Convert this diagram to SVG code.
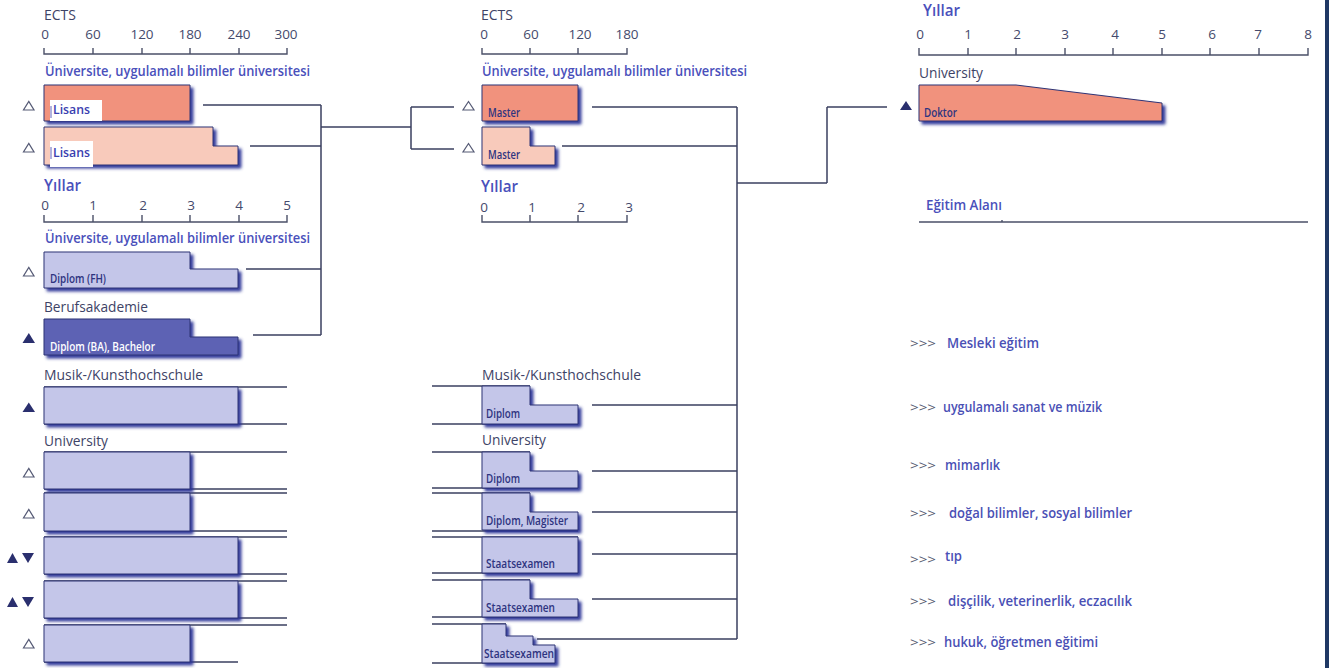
<svg xmlns="http://www.w3.org/2000/svg" width="1329" height="668" viewBox="0 0 1329 668">
<defs>
<filter id="sh" x="-10%" y="-20%" width="130%" height="160%">
<feDropShadow dx="3" dy="3" stdDeviation="1.4" flood-color="#2a3196" flood-opacity="0.95"/>
</filter>
<style>
text{font-family:"Open Sans","Liberation Sans",sans-serif}
.ax{stroke:#4b5068;stroke-width:1.4;fill:none}
.cn{stroke:#3b4060;stroke-width:1.5;fill:none}
.ln{stroke:#3b4060;stroke-width:1.3}
.bar{stroke:#2f3475;stroke-width:1;filter:url(#sh)}
.sal{fill:#f1927d}.lsal{fill:#f8cabb}.lav{fill:#c4c6e9}.dk{fill:#5d62b4}
.tk{font-size:13.5px;fill:#454a6c;text-anchor:middle}
.gr{font-size:14px;fill:#3e4366}
.hd{font-size:14px;fill:#4a50bb;font-weight:600}
.yl{font-size:16.5px;fill:#4a50bb;font-weight:600}
.bl{font-size:13px;fill:#2e3480;font-weight:600}
.wt{font-size:13px;fill:#ffffff;font-weight:600}
.ls{font-size:13px;fill:#3a40b0;font-weight:600}
.lg{font-size:15px;fill:#4a50b5;font-weight:600}
.ar{fill:#555a70;font-weight:400}
.to{fill:none;stroke:#555a75;stroke-width:1.2}
.tf{fill:#2a2f6e}
</style>
</defs>
<rect width="1329" height="668" fill="#ffffff"/>
<rect x="1325" y="0" width="4" height="668" fill="#1f3864"/>

<g id="axes">
<text x="44" y="20" class="gr" textLength="32" lengthAdjust="spacingAndGlyphs">ECTS</text>
<text x="45" y="39" class="tk">0</text><text x="93" y="39" class="tk">60</text><text x="142" y="39" class="tk">120</text><text x="190" y="39" class="tk">180</text><text x="239" y="39" class="tk">240</text><text x="286" y="39" class="tk">300</text>
<path class="ax" d="M44,48V54H287V48M93,48V54M142,48V54M190,48V54M239,48V54"/>
<text x="45" y="76" class="hd" textLength="265" lengthAdjust="spacingAndGlyphs">Üniversite, uygulamalı bilimler üniversitesi</text>
<text x="44" y="191" class="yl" textLength="37" lengthAdjust="spacingAndGlyphs">Yıllar</text>
<text x="45" y="210" class="tk">0</text><text x="93" y="210" class="tk">1</text><text x="143" y="210" class="tk">2</text><text x="191" y="210" class="tk">3</text><text x="239" y="210" class="tk">4</text><text x="287" y="210" class="tk">5</text>
<path class="ax" d="M44,215V222H287V215M93,215V222M142,215V222M190,215V222M239,215V222"/>
<text x="45" y="243" class="hd" textLength="265" lengthAdjust="spacingAndGlyphs">Üniversite, uygulamalı bilimler üniversitesi</text>

<text x="481" y="20" class="gr" textLength="32" lengthAdjust="spacingAndGlyphs">ECTS</text>
<text x="484" y="39" class="tk">0</text><text x="531" y="39" class="tk">60</text><text x="580" y="39" class="tk">120</text><text x="627" y="39" class="tk">180</text>
<path class="ax" d="M482,48V54H627V48M530,48V54M578,48V54"/>
<text x="482" y="76" class="hd" textLength="265" lengthAdjust="spacingAndGlyphs">Üniversite, uygulamalı bilimler üniversitesi</text>
<text x="481" y="192" class="yl" textLength="37" lengthAdjust="spacingAndGlyphs">Yıllar</text>
<text x="484" y="212" class="tk">0</text><text x="532" y="212" class="tk">1</text><text x="581" y="212" class="tk">2</text><text x="629" y="212" class="tk">3</text>
<path class="ax" d="M482,215V222H627V215M530,215V222M578,215V222"/>

<text x="923" y="16" class="yl" textLength="37" lengthAdjust="spacingAndGlyphs">Yıllar</text>
<text x="920" y="39" class="tk">0</text><text x="968" y="39" class="tk">1</text><text x="1017" y="39" class="tk">2</text><text x="1065" y="39" class="tk">3</text><text x="1115" y="39" class="tk">4</text><text x="1162" y="39" class="tk">5</text><text x="1212" y="39" class="tk">6</text><text x="1258" y="39" class="tk">7</text><text x="1308" y="39" class="tk">8</text>
<path class="ax" d="M919,48V55H1308V48M968,48V55M1016,48V55M1065,48V55M1113,48V55M1162,48V55M1210,48V55M1259,48V55"/>
<text x="926" y="210" class="hd" textLength="76" lengthAdjust="spacingAndGlyphs">Eğitim Alanı</text>
<path class="ax" d="M919,222H1308M1002,222V220"/>
</g>

<g id="connectors">
<path class="cn" d="M203,105H321M250,146H321M321,105V335M246,269H321M253,335H321M321,127H411M411,107V149M411,107H454M411,149H454"/>
<path class="cn" d="M592,107H737M562,146H737M737,107V639M737,183H827M827,107V183M827,107H887M592,405H737M592,471H737M592,512H737M592,554H737M592,599H737M537,639H737"/>
</g>

<g id="n-lisans1">
<path class="bar sal" d="M44,85H190V121H44Z"/>
<rect x="50" y="100" width="52" height="21" fill="#ffffff"/>
<line x1="51" y1="106" x2="51" y2="118" stroke="#3a40b0" stroke-width="0.8"/>
<text x="53" y="114" class="ls" textLength="37" lengthAdjust="spacingAndGlyphs">Lisans</text>
<polygon class="to" points="23.5,110 34,110 28.8,101.5"/>
</g>
<g id="n-lisans2">
<path class="bar lsal" d="M44,127H213V146H238V165H44Z"/>
<rect x="50" y="141" width="43" height="26" fill="#ffffff"/>
<line x1="51" y1="147" x2="51" y2="159" stroke="#3a40b0" stroke-width="0.8"/>
<text x="53" y="157" class="ls" textLength="37" lengthAdjust="spacingAndGlyphs">Lisans</text>
<polygon class="to" points="23.5,152 34,152 28.8,143.5"/>
</g>
<g id="n-diplomfh">
<path class="bar lav" d="M44,252H190V269H238V288H44Z"/>
<text x="50" y="283" class="bl" textLength="56" lengthAdjust="spacingAndGlyphs">Diplom (FH)</text>
<polygon class="to" points="23.5,276 34,276 28.8,267.5"/>
</g>
<g id="n-ba">
<text x="44" y="312" class="gr" textLength="104" lengthAdjust="spacingAndGlyphs">Berufsakademie</text>
<path class="bar dk" d="M44,319H190V337H238V355H44Z"/>
<text x="50" y="351" class="wt" textLength="105" lengthAdjust="spacingAndGlyphs">Diplom (BA), Bachelor</text>
<polygon class="tf" points="22.5,343 35,343 28.8,333"/>
</g>
<g id="n-musik-left">
<text x="44" y="380" class="gr" textLength="159" lengthAdjust="spacingAndGlyphs">Musik-/Kunsthochschule</text>
<path class="ln" d="M44,387H287M44,424H287"/>
<path class="bar lav" d="M44,387H238V424H44Z"/>
<polygon class="tf" points="22.5,412 35,412 28.8,402.5"/>
</g>
<g id="n-uni-left">
<text x="44" y="446" class="gr" textLength="64" lengthAdjust="spacingAndGlyphs">University</text>
<path class="ln" d="M44,452H287M44,489H287M44,493H287M44,531H287M44,537H287M44,574H287M44,581H287M44,618H287M44,625H287M44,662H238"/>
<path class="bar lav" d="M44,452H190V489H44Z"/>
<path class="bar lav" d="M44,493H190V531H44Z"/>
<path class="bar lav" d="M44,537H238V574H44Z"/>
<path class="bar lav" d="M44,581H238V618H44Z"/>
<path class="bar lav" d="M44,625H190V662H44Z"/>
<polygon class="to" points="23.5,477 34,477 28.8,468.5"/>
<polygon class="to" points="23.5,518 34,518 28.8,509.5"/>
<polygon class="tf" points="7,563 18,563 12.5,553"/>
<polygon class="tf" points="22,553 34,553 28,563"/>
<polygon class="tf" points="7,607 18,607 12.5,597"/>
<polygon class="tf" points="22,597 34,597 28,607"/>
<polygon class="to" points="23.5,648 34,648 28.8,639.5"/>
</g>

<g id="n-master1">
<path class="bar sal" d="M482,85H578V121H482Z"/>
<text x="488" y="117" class="bl" textLength="32" lengthAdjust="spacingAndGlyphs">Master</text>
<polygon class="to" points="463,110 474,110 468.5,101.5"/>
</g>
<g id="n-master2">
<path class="bar lsal" d="M482,127H530V146H555V165H482Z"/>
<text x="488" y="159" class="bl" textLength="32" lengthAdjust="spacingAndGlyphs">Master</text>
<polygon class="to" points="463,152 474,152 468.5,143.5"/>
</g>
<g id="n-musik-mid">
<text x="482" y="380" class="gr" textLength="159" lengthAdjust="spacingAndGlyphs">Musik-/Kunsthochschule</text>
<path class="ln" d="M432,386H530M432,424H578"/>
<path class="bar lav" d="M482,386H530V405H578V424H482Z"/>
<text x="486" y="418" class="bl" textLength="34" lengthAdjust="spacingAndGlyphs">Diplom</text>
</g>
<g id="n-uni-mid">
<text x="482" y="445" class="gr" textLength="64" lengthAdjust="spacingAndGlyphs">University</text>
<path class="ln" d="M432,452H530M432,488H578M432,493H530M432,531H578M432,537H578M432,573H578M432,580H530M432,617H578M432,624H506M432,663H555"/>
<path class="bar lav" d="M482,452H530V471H578V488H482Z"/>
<text x="486" y="483" class="bl" textLength="34" lengthAdjust="spacingAndGlyphs">Diplom</text>
<path class="bar lav" d="M482,493H530V512H578V530H482Z"/>
<text x="486" y="525" class="bl" textLength="82" lengthAdjust="spacingAndGlyphs">Diplom, Magister</text>
<path class="bar lav" d="M482,537H578V573H482Z"/>
<text x="486" y="568" class="bl" textLength="69" lengthAdjust="spacingAndGlyphs">Staatsexamen</text>
<path class="bar lav" d="M482,580H530V599H578V617H482Z"/>
<text x="486" y="612" class="bl" textLength="69" lengthAdjust="spacingAndGlyphs">Staatsexamen</text>
<path class="bar lav" d="M482,624H506V636H533V645H555V663H482Z"/>
<text x="484" y="658" class="bl" textLength="70" lengthAdjust="spacingAndGlyphs">Staatsexamen</text>
</g>

<g id="n-doktor">
<text x="919" y="78" class="gr" textLength="64" lengthAdjust="spacingAndGlyphs">University</text>
<path class="bar sal" d="M919,85H1016L1162,103V121H919Z"/>
<text x="924" y="117" class="bl" textLength="33" lengthAdjust="spacingAndGlyphs">Doktor</text>
<polygon class="tf" points="900,110 912,110 906,101"/>
</g>

<g id="legend">
<text y="348" class="lg"><tspan x="910" class="ar" font-size="13" textLength="26" lengthAdjust="spacingAndGlyphs">&gt;&gt;&gt;</tspan><tspan x="947" textLength="92" lengthAdjust="spacingAndGlyphs">Mesleki eğitim</tspan></text>
<text y="412" class="lg"><tspan x="910" class="ar" font-size="13" textLength="26" lengthAdjust="spacingAndGlyphs">&gt;&gt;&gt;</tspan><tspan x="943" textLength="159" lengthAdjust="spacingAndGlyphs">uygulamalı sanat ve müzik</tspan></text>
<text y="470" class="lg"><tspan x="910" class="ar" font-size="13" textLength="26" lengthAdjust="spacingAndGlyphs">&gt;&gt;&gt;</tspan><tspan x="945" textLength="55" lengthAdjust="spacingAndGlyphs">mimarlık</tspan></text>
<text y="518" class="lg"><tspan x="910" class="ar" font-size="13" textLength="26" lengthAdjust="spacingAndGlyphs">&gt;&gt;&gt;</tspan><tspan x="949" textLength="183" lengthAdjust="spacingAndGlyphs">doğal bilimler, sosyal bilimler</tspan></text>
<text y="564" class="lg"><tspan x="910" class="ar" font-size="13" textLength="26" lengthAdjust="spacingAndGlyphs">&gt;&gt;&gt;</tspan><tspan x="945" y="561" textLength="17" lengthAdjust="spacingAndGlyphs">tıp</tspan></text>
<text y="606" class="lg"><tspan x="910" class="ar" font-size="13" textLength="26" lengthAdjust="spacingAndGlyphs">&gt;&gt;&gt;</tspan><tspan x="948" textLength="184" lengthAdjust="spacingAndGlyphs">dişçilik, veterinerlik, eczacılık</tspan></text>
<text y="647" class="lg"><tspan x="910" class="ar" font-size="13" textLength="26" lengthAdjust="spacingAndGlyphs">&gt;&gt;&gt;</tspan><tspan x="944" textLength="154" lengthAdjust="spacingAndGlyphs">hukuk, öğretmen eğitimi</tspan></text>
</g>
</svg>
